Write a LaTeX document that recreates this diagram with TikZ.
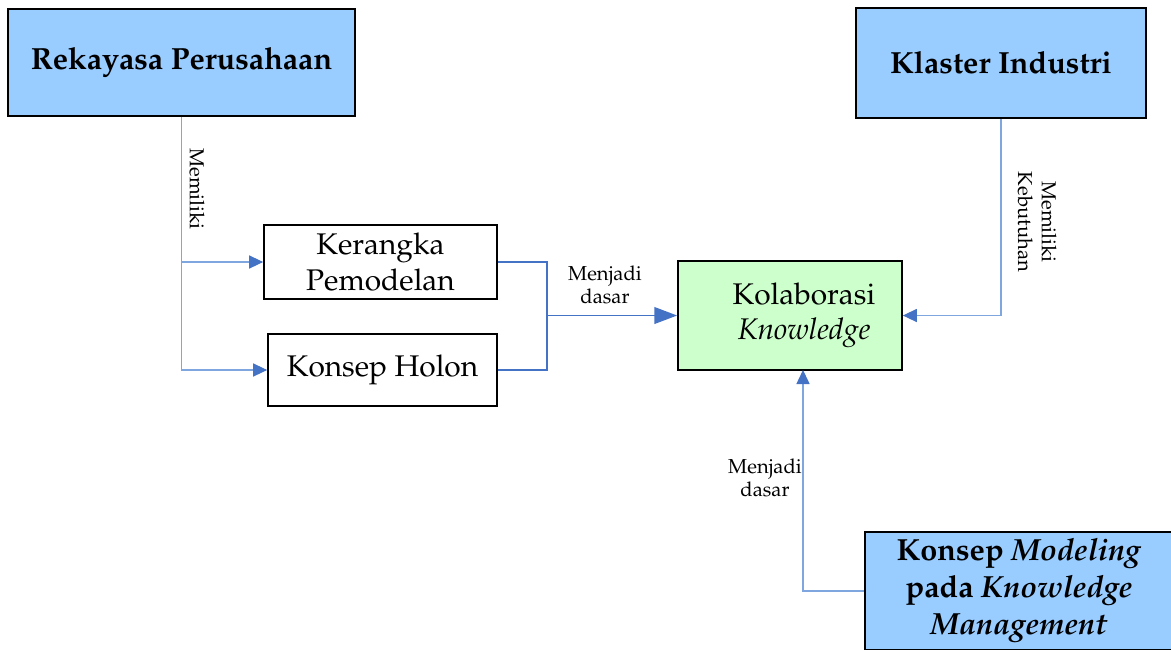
\documentclass[tikz,border=0pt]{standalone}
\usepackage[T1]{fontenc}
\usepackage{mathpazo}
\usetikzlibrary{arrows.meta}

\definecolor{boxblue}{HTML}{99CCFF}
\definecolor{boxgreen}{HTML}{CCFFCC}
\definecolor{linelight}{HTML}{7FA6DE}
\definecolor{linedark}{HTML}{4472C4}

\tikzset{
  box/.style={draw=black, line width=1pt, align=center, inner sep=2pt,
    font=\fontsize{17}{20}\selectfont},
  bluebox/.style={box, fill=boxblue, font=\fontsize{17.4}{21}\selectfont\bfseries},
  lbl/.style={align=center, inner sep=1pt, font=\fontsize{11.5}{13.5}\selectfont},
  thinarrow/.style={draw=linelight, line width=0.6pt,
    -{Triangle[length=8pt,width=7.5pt,color=linedark]}},
  thickline/.style={draw=linedark, line width=1.1pt},
  thickarrow/.style={thickline, -{Triangle[length=13pt,width=9.5pt]}}
}

\begin{document}
\begin{tikzpicture}
    \useasboundingbox (0,0) rectangle (23.42,-12.98);

    % Kotak utama (biru)
    \node[bluebox, minimum width=6.94cm, minimum height=2.14cm] (rekayasa) at (3.63,-1.25) {Rekayasa Perusahaan};
    \node[bluebox, minimum width=5.80cm, minimum height=2.20cm] (klaster) at (20.02,-1.26) {Klaster Industri};
    \node[bluebox, minimum width=6.16cm, minimum height=2.36cm] (modeling) at (20.38,-11.82) {Konsep \textit{Modeling}\\pada \textit{Knowledge}\\\textit{Management}};

    % Kotak tengah
    \node[box, minimum width=4.66cm, minimum height=1.48cm] (kerangka) at (7.61,-5.24) {Kerangka\\Pemodelan};
    \node[box, minimum width=4.58cm, minimum height=1.44cm] (holon) at (7.65,-7.40) {Konsep Holon};
    \node[box, fill=boxgreen, minimum width=4.48cm, minimum height=2.18cm] (kolaborasi) at (15.80,-6.31) {\hspace*{0.56cm}Kolaborasi\\\hspace*{0.56cm}\textit{Knowledge}};

    % Titik sambungan
    \coordinate (gabung) at (10.94,-6.31);
    \coordinate (bawah) at (16.06,-7.40);

    % Panah tipis
    \draw[thinarrow] (rekayasa.south) |- (kerangka.west);
    \draw[thinarrow] (rekayasa.south) |- (holon.west);
    \draw[thinarrow] (klaster.south) |- (kolaborasi.east);
    \draw[thinarrow] (modeling.west) -| (bawah);

    % Panah tebal ke kolaborasi
    \draw[thickline] (kerangka.east) -| (gabung);
    \draw[thickline] (holon.east) -| (gabung);
    \draw[thickarrow] (gabung) -- (kolaborasi.west);

    % Label
    \node[lbl, rotate=-90] (lblmemiliki) at (3.94,-3.78) {Memiliki};
    \node[lbl, rotate=-90] (lblkebutuhan) at (20.74,-4.44) {Memiliki\\Kebutuhan};
    \node[lbl] (lbldasar) at (12.10,-5.70) {Menjadi\\dasar};
    \node[lbl] (lbldasarbawah) at (15.30,-9.56) {Menjadi\\dasar};
\end{tikzpicture}
\end{document}
